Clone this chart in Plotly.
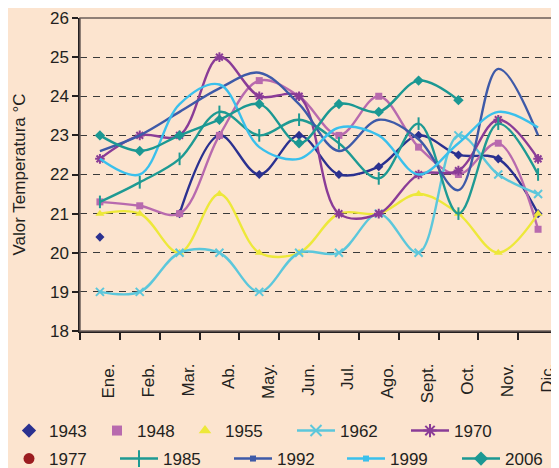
import plotly.graph_objects as go

# ---------------- data ----------------
months = ["Ene.", "Feb.", "Mar.", "Ab.", "May.", "Jun.", "Jul.", "Ago.",
          "Sept.", "Oct.", "Nov.", "Dic."]
y_ticks = [18, 19, 20, 21, 22, 23, 24, 25, 26]

t1943 = [20.4, None, 21.0, 23.0, 22.0, 23.0, 22.0, 22.2, 23.0, 22.5, 22.4, 21.0]
t1948 = [21.3, 21.2, 21.0, 23.0, 24.4, 24.0, 23.0, 24.0, 22.7, 22.0, 22.8, 20.6]
t1955 = [21.0, 21.0, 20.0, 21.5, 20.0, 20.0, 21.0, 21.0, 21.5, 21.0, 20.0, 21.0]
t1962 = [19.0, 19.0, 20.0, 20.0, 19.0, 20.0, 20.0, 21.0, 20.0, 23.0, 22.0, 21.5]
t1970 = [22.4, 23.0, 23.0, 25.0, 24.0, 24.0, 21.0, 21.0, 22.0, 22.1, 23.4, 22.4]
t1977 = [None] * 12
t1985 = [21.3, 21.8, 22.4, 23.6, 23.0, 23.4, 22.8, 21.9, 23.3, 21.0, 23.3, 22.0]
t1992 = [22.6, 23.0, 23.6, 24.2, 24.6, 23.8, 22.6, 23.4, 22.9, 21.6, 24.7, 23.0]
t1999 = [22.4, 22.0, 23.8, 24.3, 22.7, 22.4, 23.2, 23.0, 22.0, 22.8, 23.6, 23.2]
t2006 = [23.0, 22.6, 23.0, 23.4, 23.8, 22.8, 23.8, 23.6, 24.4, 23.9, None, None]

# ---------------- styles ----------------
BG = "#FCE4CF"
TXT = "#231F20"
FONT = "Liberation Sans, Arial, sans-serif"

series = [
    # name, values, color, chart marker, chart size, legend symbol, legend size, legend line
    ("1943", t1943, "#2B3190", "diamond", 7, "diamond", 11, False),
    ("1948", t1948, "#B86AAE", "square", 7, "square", 10, False),
    ("1955", t1955, "#EDE83A", "triangle-up", 8, "triangle-up", 11, False),
    ("1962", t1962, "#5CC7DB", "x-thin", 8, "x-thin", 11, True),
    ("1970", t1970, "#8A3C97", "asterisk", 8, "asterisk", 11, True),
    ("1977", t1977, "#9B1C20", "circle", 8, "circle", 11, False),
    ("1985", t1985, "#1E9A93", "line-ns", 9, "line-ns", 12, True),
    ("1992", t1992, "#3E5AA8", None, 0, "square", 6, True),
    ("1999", t1999, "#3AC0EC", None, 0, "square", 6, True),
    ("2006", t2006, "#1B9893", "diamond", 8, "diamond", 11, True),
]

# page offset (browser default body margin)
OFF = 8
W, H = 559 - OFF, 468 - OFF

# legend item placement in page px: (left edge, centre y, item width)
legend_pos = [
    (9, 431, 30), (97, 431, 30), (185, 431, 30), (292, 431, 38), (406, 431, 38),
    (9, 459, 30), (115, 459, 38), (229, 459, 38), (342, 459, 38), (457, 459, 38),
]

fig = go.Figure()

for name, vals, col, sym, size, lsym, lsize, lline in series:
    open_sym = sym in ("x-thin", "asterisk", "line-ns")
    mk = dict(symbol=sym, size=size, color=col,
              line=dict(color=col, width=2 if open_sym else 0)) if sym else None
    fig.add_trace(go.Scatter(
        x=months, y=vals, name=name,
        mode="lines+markers" if sym else "lines",
        line=dict(color=col, width=2.4, shape="spline", smoothing=1.0),
        marker=mk, connectgaps=False, showlegend=False, hoverinfo="skip",
    ))

# legend-only traces
for i, (name, vals, col, sym, size, lsym, lsize, lline) in enumerate(series):
    open_l = lsym in ("x-thin", "asterisk", "line-ns")
    lid = "legend" if i == 0 else f"legend{i+1}"
    fig.add_trace(go.Scatter(
        x=[None], y=[None], name=name,
        mode="lines+markers" if lline else "markers",
        line=dict(color=col, width=2.4),
        marker=dict(symbol=lsym, size=lsize, color=col,
                    line=dict(color=col, width=2 if open_l else 0)),
        legend=lid, showlegend=True,
    ))

legends = {}
for i, (lx, ly, iw) in enumerate(legend_pos):
    key = "legend" if i == 0 else f"legend{i+1}"
    legends[key] = dict(
        x=(lx - OFF) / W, y=1 - (ly - OFF) / H, xref="container", yref="container",
        xanchor="left", yanchor="middle", orientation="h",
        bgcolor="rgba(0,0,0,0)", borderwidth=0, itemwidth=iw,
        font=dict(family=FONT, size=17, color=TXT),
        itemclick=False, itemdoubleclick=False,
    )

fig.update_layout(
    width=W, height=H,
    paper_bgcolor=BG, plot_bgcolor=BG,
    margin=dict(l=80 - OFF, r=1, t=14 - OFF, b=137, pad=0),
    font=dict(family=FONT, size=17, color=TXT),
    showlegend=True,
    **legends,
)

fig.update_xaxes(
    type="category", categoryorder="array", categoryarray=months,
    range=[-0.5, 11.5], tickson="boundaries",
    ticks="outside", ticklen=7, tickwidth=1.5, tickcolor=TXT,
    showline=True, linecolor=TXT, linewidth=1.5,
    showgrid=False, zeroline=False,
    tickangle=-90, tickfont=dict(family=FONT, size=17, color=TXT),
    ticklabelstandoff=24, ticklabelshift=9, ticklabeloverflow="allow",
)

fig.update_yaxes(
    range=[18, 26], tickvals=y_ticks, ticktext=[str(v) for v in y_ticks],
    ticks="outside", ticklen=6, tickwidth=1.5, tickcolor=TXT,
    showline=True, linecolor=TXT, linewidth=1.5,
    showgrid=True, gridcolor="#3A3A3A", gridwidth=1, griddash="7px,6px",
    zeroline=False,
    tickfont=dict(family=FONT, size=17, color=TXT),
    ticklabelstandoff=0, ticklabeloverflow="allow",
    title=dict(text="Valor Temperatura °C", font=dict(family=FONT, size=17, color=TXT),
               standoff=20),
)

fig.add_shape(type="rect", xref="paper", yref="paper", x0=0, x1=1, y0=0, y1=1,
              line=dict(color="#6B5D5A", width=1.5), layer="above")

fig.write_html("out.html")
